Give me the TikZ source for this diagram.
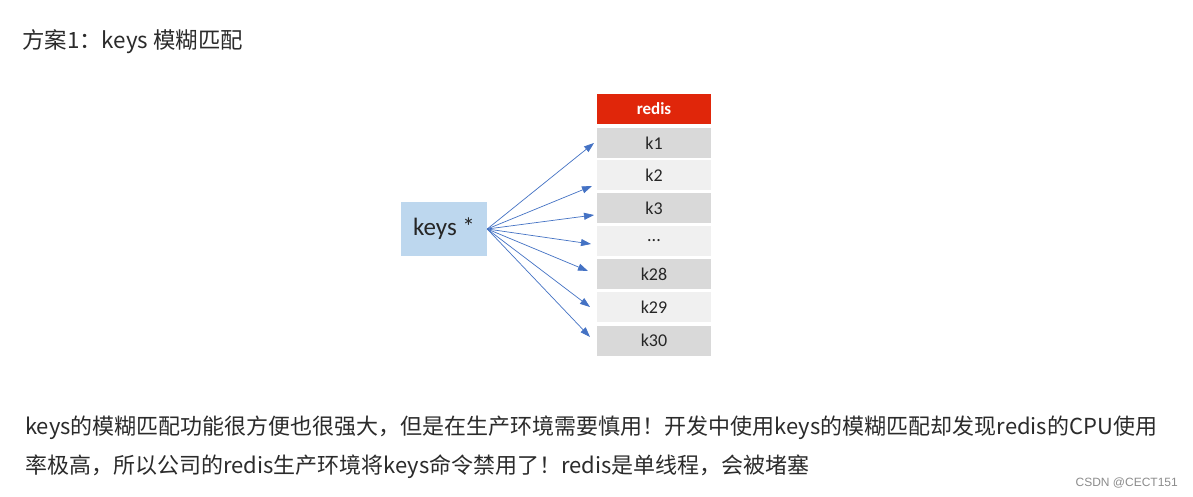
\documentclass[tikz,border=0pt]{standalone}
\usepackage{fontspec}
\setmainfont{Noto Sans CJK SC}
\newfontfamily\calib{Carlito}
\newfontfamily\wmfont{Liberation Sans}
\usetikzlibrary{arrows.meta}
\definecolor{hdr}{HTML}{E0260A}
\definecolor{dk}{HTML}{D9D9D9}
\definecolor{lt}{HTML}{F0F0F0}
\definecolor{kbox}{HTML}{BDD7EE}
\definecolor{arr}{HTML}{4472C4}
\definecolor{txt}{HTML}{2B2B2B}
\tikzset{
  row/.style={minimum width=114pt, minimum height=30pt, inner sep=0pt, font=\calib\fontsize{18}{20}\selectfont, text=black!85},
  darkrow/.style={row, fill=dk},
  lightrow/.style={row, fill=lt},
  conn/.style={draw=arr, line width=0.7pt, -{Triangle[length=10pt,width=7pt]}},
  para/.style={anchor=west, inner sep=0pt, text=txt, font=\fontsize{22}{26}\selectfont}
}
\begin{document}
\begin{tikzpicture}[x=1pt,y=-1pt]
\useasboundingbox (0,0) rectangle (1193,497);
\fill[white] (0,0) rectangle (1193,497);
\node[para, font=\fontsize{22.4}{26}\selectfont] (title) at (22,42) {方案1：keys 模糊匹配};
\node[minimum width=86pt, minimum height=54pt, fill=kbox, inner sep=0pt, font=\calib\fontsize{25}{28}\selectfont, text=black!85] (keys) at (444,229) {keys *};
\node[row, fill=hdr, text=white, font=\calib\bfseries\fontsize{17}{19}\selectfont] (redis) at (654,109) {redis};
\node[darkrow] (k1) at (654,143) {k1};
\node[lightrow] (k2) at (654,175.5) {k2};
\node[darkrow] (k3) at (654,208) {k3};
\node[lightrow] (kd) at (654,241) {...};
\node[darkrow] (k28) at (654,274) {k28};
\node[lightrow] (k29) at (654,307) {k29};
\node[darkrow] (k30) at (654,340.5) {k30};
\coordinate (t1) at (594,143);
\coordinate (t2) at (592,186);
\coordinate (t3) at (594,215);
\coordinate (t4) at (591,244);
\coordinate (t5) at (588,271);
\coordinate (t6) at (590,307);
\coordinate (t7) at (590,337);
\foreach \t in {t1,t2,t3,t4,t5,t6,t7}{
  \draw[conn] (keys.east) -- (\t);
}
\node[para] (l1) at (25,428) {keys的模糊匹配功能很方便也很强大，但是在生产环境需要慎用！开发中使用keys的模糊匹配却发现redis的CPU使用};
\node[para] (l2) at (25,467) {率极高，所以公司的redis生产环境将keys命令禁用了！redis是单线程，会被堵塞};
\node[anchor=east, inner sep=0pt, text=black!45, font=\wmfont\fontsize{12}{14}\selectfont] (wm) at (1178,483) {CSDN @CECT151};
\end{tikzpicture}
\end{document}
